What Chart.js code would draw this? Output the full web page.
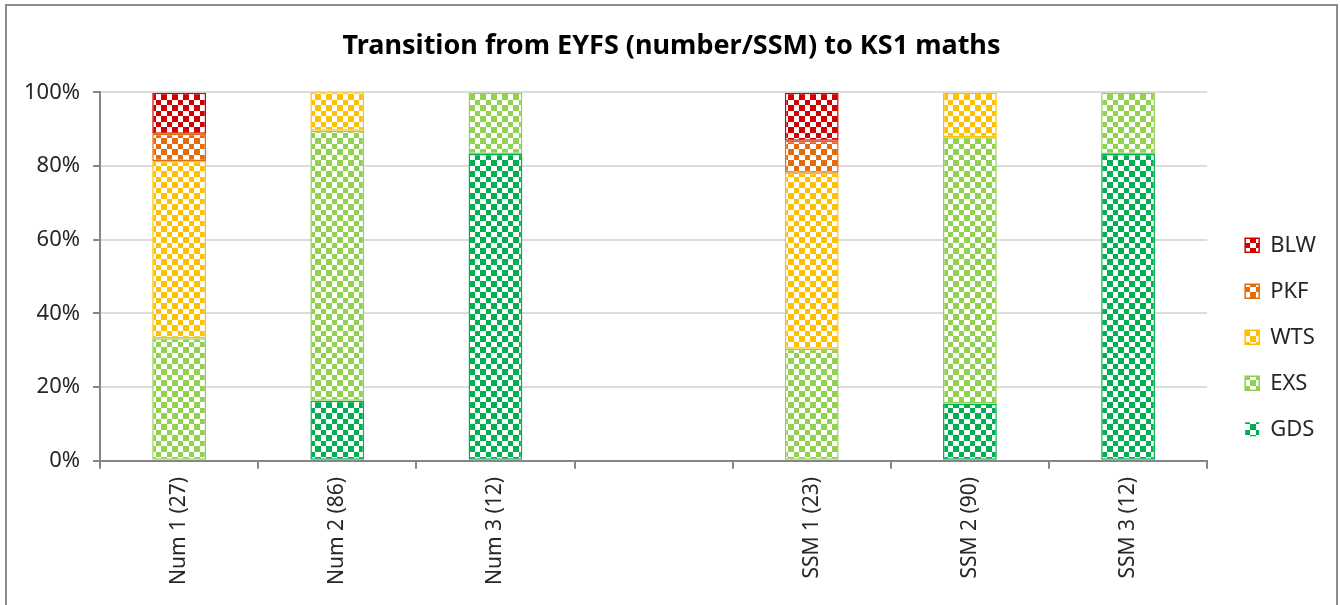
<!DOCTYPE html>
<html>
<head>
<meta charset="utf-8">
<script src="https://cdn.jsdelivr.net/npm/chart.js@4"></script>
<style>
  html, body { margin: 0; padding: 0; background: #fff; overflow: hidden; }
  #frame { position: absolute; left: 5px; top: 4px; width: 1329px; height: 640px; border: 2px solid #8c8c8c; }
  #box { position: relative; width: 1329px; height: 601px; }
</style>
</head>
<body>
<div id="frame"><div id="box"><canvas id="kschart"></canvas></div></div>
<script>
/* EYFS -> KS1 maths transition, % of pupils per outcome */

const categories = ['Num 1 (27)', 'Num 2 (86)', 'Num 3 (12)', '', 'SSM 1 (23)', 'SSM 2 (90)', 'SSM 3 (12)'];
const gdsValues = [0, 16.3, 83.3, null, 0, 15.6, 83.3];
const exsValues = [33.3, 73.3, 16.7, null, 30.4, 72.2, 16.7];
const wtsValues = [48.1, 10.5, 0, null, 47.8, 12.2, 0];
const pkfValues = [7.4, 0, 0, null, 8.7, 0, 0];
const blwValues = [11.1, 0, 0, null, 13.0, 0, 0];
const yTicks = [0, 20, 40, 60, 80, 100];

const fontName = "'Noto Sans', 'Open Sans', sans-serif";

// checkerboard fill like the excel pattern
function checker(color){
  const c = document.createElement('canvas');
  c.width = 11; c.height = 11;
  const g = c.getContext('2d');
  g.fillStyle = '#fff';
  g.fillRect(0, 0, 11, 11);
  g.fillStyle = color;
  g.fillRect(0, 0, 6, 6);
  g.fillRect(6, 6, 5, 5);
  return g.createPattern(c, 'repeat');
}

function makeSet(label, values, color){
  return {
    label: label,
    data: values,
    backgroundColor: checker(color),
    borderColor: color,
    borderWidth: (c) => c.raw ? 1.5 : 0,
    borderSkipped: false,
    barPercentage: 0.68,
    categoryPercentage: 0.5
  };
}

// nudge the legend a bit right, away from the plot, and recentre the title
const legendShift = {
  id: 'legendShift',
  afterLayout(chart){
    chart.legend.left += 14;
    chart.legend.right += 14;
    chart.titleBlock.left += 10;
    chart.titleBlock.right += 10;
  }
};

const ctx = document.getElementById('kschart');
let ksChart = new Chart(ctx, {
  type: 'bar',
  data: {
    labels: categories,
    datasets: [
      makeSet('GDS', gdsValues, '#00b050'),
      makeSet('EXS', exsValues, '#92d050'),
      makeSet('WTS', wtsValues, '#ffc000'),
      makeSet('PKF', pkfValues, '#e46c0a'),
      makeSet('BLW', blwValues, '#d00000')
    ]
  },
  plugins: [legendShift],
  options: {
    responsive: true,
    maintainAspectRatio: false,
    animation: false,
    layout: { padding: { left: 4, right: 24, top: 10, bottom: 14 } },
    plugins: {
      title: {
        display: true,
        text: 'Transition from EYFS (number/SSM) to KS1 maths',
        color: '#000',
        font: { family: fontName, size: 27, weight: 'bold' },
        padding: { top: 14, bottom: 30 }
      },
      legend: {
        position: 'right',
        reverse: true,
        // blank title only pushes the column down a bit
        title: { display: true, text: ' ', padding: { top: 28, bottom: 28 }, font: { size: 8 } },
        labels: {
          boxWidth: 14,
          boxHeight: 14,
          padding: 24,
          color: '#262626',
          font: { family: fontName, size: 22 }
        }
      },
      tooltip: { enabled: false }
    },
    scales: {
      x: {
        stacked: true,
        grid: { display: true, drawOnChartArea: false, tickLength: 8, tickColor: '#868686', lineWidth: 2, offset: true },
        border: { color: '#868686', width: 2 },
        ticks: {
          autoSkip: false, maxRotation: 90, minRotation: 90,
          color: '#262626',
          padding: 8,
          font: { family: fontName, size: 21 }
        }
      },
      y: {
        stacked: true,
        min: 0,
        max: 100,
        afterBuildTicks: (axis) => { axis.ticks = yTicks.map(v => ({ value: v })); },
        grid: { color: '#dcdcdc', lineWidth: 2, tickLength: 7, tickColor: '#868686' },
        border: { color: '#868686', width: 2 },
        ticks: {
          callback: (v) => v + '%',
          color: '#262626',
          padding: 13,
          font: { family: fontName, size: 22 }
        }
      }
    }
  }
});
</script>
</body>
</html>
